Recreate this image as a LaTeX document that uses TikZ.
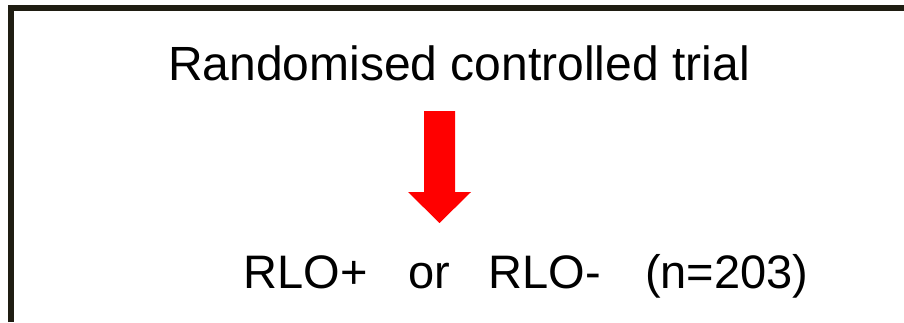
\documentclass[tikz,border=0pt]{standalone}
\usepackage{fontspec}
\setmainfont{Liberation Sans}
\definecolor{framedark}{HTML}{1F1D12}
\definecolor{arrowred}{HTML}{FF0000}
\tikzset{
  frameline/.style={line width=6pt, draw=framedark},
  titletext/.style={anchor=base west, inner sep=0pt, font=\fontsize{48}{52}\selectfont},
  choicetext/.style={anchor=base west, inner sep=0pt, font=\fontsize{47}{52}\selectfont},
  bigarrow/.style={fill=arrowred, draw=none}
}
\begin{document}
\begin{tikzpicture}[x=1pt, y=-1pt]
  % canvas
  \useasboundingbox (0,0) rectangle (904,322);
  \fill[white] (0,0) rectangle (904,322);

  % frame: left and top edges
  \draw[frameline] (11,322) -- (11,8) -- (904,8);

  % heading
  \node[titletext] (title) at (168,80) {Randomised controlled trial};

  % downward block arrow
  \fill[bigarrow] (424,111) -- (455,111) -- (455,192) -- (471,192)
        -- (439.5,223) -- (408,192) -- (424,192) -- cycle;

  % outcome line
  \node[choicetext] (plus)  at (243.5,288) {RLO+};
  \node[choicetext] (or)    at (408.5,288) {or};
  \node[choicetext] (minus) at (488.5,288) {RLO-};
  \node[choicetext] (count) at (645,288)   {(n=203)};
\end{tikzpicture}
\end{document}
